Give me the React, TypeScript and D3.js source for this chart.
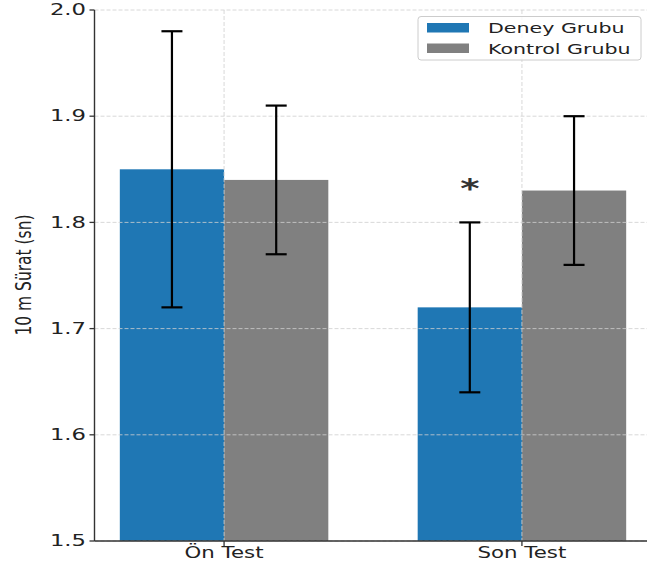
import React from "react";
import * as d3 from "d3";

const categories = ["Ön Test", "Son Test"];
const groups = ["Deney Grubu", "Kontrol Grubu"];
const deneyMeans = [1.85, 1.72];
const deneyErr = [0.13, 0.08];
const kontrolMeans = [1.84, 1.83];
const kontrolErr = [0.07, 0.07];
const yTicks = [1.5, 1.6, 1.7, 1.8, 1.9, 2.0];
const colors = ["#1f77b4", "#808080"];
const significance = ["", "*"]; // per category, marks Deney group

const W = 647;
const H = 567;
const SX = 1.42;
const FONT = "DejaVu Sans";

export default function App() {
  const x = d3.scaleLinear().domain([-0.435, 1.435]).range([94.5, 651.5]);
  const y = d3.scaleLinear().domain([1.5, 2.0]).range([541, 10]);
  const barW = 0.35;
  const series = [
    { means: deneyMeans, err: deneyErr, offset: -barW / 2 },
    { means: kontrolMeans, err: kontrolErr, offset: barW / 2 },
  ];
  const gridColor = "#d0d0d0";
  const axisColor = "#333";

  return (
    <svg
      width={W}
      height={H}
      style={{ position: "absolute", left: 0, top: 0, background: "#fff" }}
      fontFamily={FONT}
    >
      <rect x={0} y={0} width={W} height={H} fill="#fff" />
      {/* bars */}
      {series.map((s, si) =>
        categories.map((c, ci) => {
          const x0 = x(ci + s.offset - barW / 2);
          const x1 = x(ci + s.offset + barW / 2);
          return (
            <rect
              key={`b${si}-${ci}`}
              x={x0}
              y={y(s.means[ci])}
              width={x1 - x0}
              height={y(1.5) - y(s.means[ci])}
              fill={colors[si]}
            />
          );
        })
      )}
      {/* grid */}
      {yTicks.map((t) => (
        <line
          key={`gy${t}`}
          x1={x(-0.435)}
          x2={x(1.435)}
          y1={y(t)}
          y2={y(t)}
          stroke={gridColor}
          strokeWidth={1}
          strokeDasharray="4,2"
          opacity={0.8}
        />
      ))}
      {categories.map((c, ci) => (
        <line
          key={`gx${ci}`}
          x1={x(ci)}
          x2={x(ci)}
          y1={y(2.0)}
          y2={y(1.5)}
          stroke={gridColor}
          strokeWidth={1}
          strokeDasharray="4,2"
          opacity={0.8}
        />
      ))}
      {/* error bars */}
      {series.map((s, si) =>
        categories.map((c, ci) => {
          const cx = x(ci + s.offset);
          const top = y(s.means[ci] + s.err[ci]);
          const bot = y(s.means[ci] - s.err[ci]);
          return (
            <g key={`e${si}-${ci}`} stroke="#000" strokeWidth={2.2}>
              <line x1={cx} x2={cx} y1={top} y2={bot} />
              <line x1={cx - 10.5} x2={cx + 10.5} y1={top} y2={top} />
              <line x1={cx - 10.5} x2={cx + 10.5} y1={bot} y2={bot} />
            </g>
          );
        })
      )}
      {/* significance */}
      {categories.map((c, ci) =>
        significance[ci] ? (
          <g
            key={`sig${ci}`}
            transform={`translate(${x(ci - barW / 2)},${
              y(deneyMeans[ci] + deneyErr[ci]) - 24
            }) scale(${SX},1)`}
          >
            <text textAnchor="middle" fontSize={26} fontWeight="bold" fill="#333">
              {significance[ci]}
            </text>
          </g>
        ) : null
      )}
      {/* axes */}
      <line x1={x(-0.435)} x2={x(-0.435)} y1={y(2.0)} y2={y(1.5)} stroke={axisColor} strokeWidth={1.4} />
      <line x1={x(-0.435)} x2={W} y1={y(1.5)} y2={y(1.5)} stroke={axisColor} strokeWidth={1.4} />
      {yTicks.map((t) => (
        <g key={`ty${t}`}>
          <line x1={x(-0.435) - 5} x2={x(-0.435)} y1={y(t)} y2={y(t)} stroke={axisColor} strokeWidth={1.3} />
          <g transform={`translate(86,${y(t)}) scale(${SX},1)`}>
            <text textAnchor="end" dominantBaseline="central" fontSize={16} fill="#222">
              {d3.format(".1f")(t)}
            </text>
          </g>
        </g>
      ))}
      {categories.map((c, ci) => (
        <g key={`tx${ci}`}>
          <line x1={x(ci)} x2={x(ci)} y1={y(1.5)} y2={y(1.5) + 5} stroke={axisColor} strokeWidth={1.3} />
          <g transform={`translate(${x(ci)},${y(1.5) + 17}) scale(${SX},1)`}>
            <text textAnchor="middle" fontSize={15} fill="#222">
              {c}
            </text>
          </g>
        </g>
      ))}
      <text
        transform={`translate(23,275) scale(${SX},1) rotate(-90)`}
        textAnchor="middle"
        dominantBaseline="central"
        fontSize={15.5}
        fill="#222"
      >
        10 m Sürat (sn)
      </text>
      {/* legend */}
      <rect x={418} y={16.5} width={223} height={43.5} rx={3} fill="#fff" fillOpacity={0.8} stroke="#cccccc" strokeWidth={1} />
      {groups.map((g, gi) => (
        <g key={`lg${gi}`}>
          <rect x={427} y={23 + gi * 20.5} width={42} height={9.5} fill={colors[gi]} />
          <g transform={`translate(488,${28 + gi * 20.5}) scale(${SX},1)`}>
            <text dominantBaseline="central" fontSize={14.5} fill="#222">
              {g}
            </text>
          </g>
        </g>
      ))}
    </svg>
  );
}
